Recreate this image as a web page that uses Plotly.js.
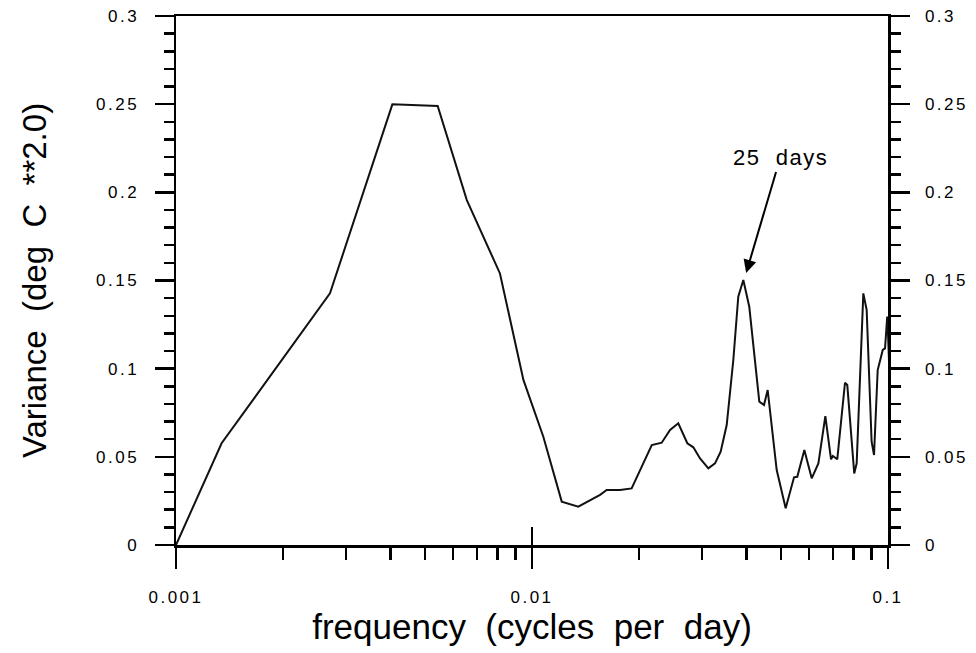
<!DOCTYPE html>
<html>
<head>
<meta charset="utf-8">
<script src="https://cdn.plot.ly/plotly-3.0.1.min.js"></script>
<style>
  html, body { margin: 0; padding: 0; background: #fff; }
  #chart { width: 976px; height: 653px; }
  .xtick text, .ytick text, .y2tick text { letter-spacing: 2.5px; }
  .annotation-text { letter-spacing: 1.5px; }
</style>
</head>
<body>
<div id="chart"></div>
<script>
// Frequency (cycles per day) and variance (deg C ** 2.0)
const frequency = [0.001, 0.001343, 0.002707, 0.004053, 0.005433, 0.00656, 0.008128, 0.00946,
  0.01076, 0.01212, 0.01349, 0.01553, 0.01621, 0.01767, 0.01905, 0.02170, 0.02314, 0.02442,
  0.02576, 0.02731, 0.02839, 0.02965, 0.03129, 0.03266, 0.03388, 0.03523, 0.03677, 0.03797,
  0.03923, 0.04077, 0.04350, 0.04484, 0.04592, 0.04868, 0.05159, 0.05445, 0.05561, 0.05821,
  0.06105, 0.06374, 0.06668, 0.06918, 0.0700, 0.07203, 0.07571, 0.07685, 0.08038, 0.08166,
  0.08524, 0.08711, 0.08995, 0.09136, 0.09355, 0.09667, 0.0981, 0.0995, 0.1, 0.1025, 0.105, 0.107];
const variance = [0, 0.0577, 0.1427, 0.2499, 0.249, 0.1956, 0.154, 0.0936,
  0.0614, 0.0246, 0.0217, 0.0284, 0.0312, 0.0312, 0.0321, 0.0567, 0.058, 0.0652,
  0.069, 0.0577, 0.0554, 0.0491, 0.0435, 0.0463, 0.0529, 0.068, 0.1049, 0.1408,
  0.1503, 0.1351, 0.0813, 0.0794, 0.0879, 0.0425, 0.0208, 0.0384, 0.0387, 0.0539,
  0.0378, 0.0463, 0.0731, 0.0486, 0.0505, 0.0486, 0.092, 0.0907, 0.0406, 0.0463,
  0.1427, 0.1333, 0.0586, 0.051, 0.0992, 0.1106, 0.1115, 0.1295, 0.12, 0.06, 0.022, 0.021];

const xTickVals = [0.001, 0.01, 0.1];
const xTickText = ['0.001', '0.01', '0.1'];
const yTickVals = [0, 0.05, 0.1, 0.15, 0.2, 0.25, 0.3];
const yTickText = ['0', '0.05', '0.1', '0.15', '0.2', '0.25', '0.3'];
const peakLabel = '25  days';
const xTitle = 'frequency  (cycles  per  day)';
const yTitle = 'Variance  (deg  C  **2.0)';

const minorX = [];
for (let d = 0; d < xTickVals.length - 1; d++) {
  for (let k = 2; k <= 9; k++) minorX.push(xTickVals[d] * k);
}

// peak marked by the annotation
let pk = 0;
for (let i = 0; i < variance.length; i++) {
  if (frequency[i] > 0.03 && frequency[i] < 0.05 && variance[i] > variance[pk]) pk = i;
}
if (!(frequency[pk] > 0.03)) pk = 28;

const FONT = 'Liberation Sans, Arial, Helvetica, sans-serif';
const tickFont = { family: FONT, size: 17, color: '#000' };

const yCommon = {
  range: [0, 0.3],
  tickmode: 'array', tickvals: yTickVals, ticktext: yTickText,
  ticks: 'outside', ticklen: 19, tickwidth: 2.5, tickcolor: '#000',
  minor: { dtick: 0.01, tick0: 0, ticks: 'outside', ticklen: 10, tickwidth: 2.5, tickcolor: '#000', showgrid: false },
  showline: true, linewidth: 2.5, linecolor: '#000',
  showgrid: false, zeroline: false, fixedrange: true,
  tickfont: tickFont, ticklabelstandoff: 12
};

const traces = [
  {
    x: frequency, y: variance, type: 'scatter', mode: 'lines',
    line: { color: '#111', width: 2 }, hoverinfo: 'skip', xaxis: 'x', yaxis: 'y'
  },
  {
    x: frequency, y: variance, type: 'scatter', mode: 'lines',
    line: { color: 'rgba(0,0,0,0)', width: 0 }, hoverinfo: 'skip', xaxis: 'x2', yaxis: 'y2',
    showlegend: false
  }
];

const layout = {
  width: 976, height: 653,
  margin: { l: 176, r: 88, t: 16, b: 108 },
  paper_bgcolor: '#fff', plot_bgcolor: '#fff',
  showlegend: false,
  font: { family: FONT, color: '#000' },
  xaxis: {
    type: 'log', range: [-3, -1],
    tickmode: 'array', tickvals: xTickVals, ticktext: xTickText,
    ticks: 'outside', ticklen: 21, tickwidth: 2.5, tickcolor: '#000',
    minor: { tickmode: 'array', tickvals: minorX, ticks: 'outside', ticklen: 12, tickwidth: 2.5, tickcolor: '#000', showgrid: false },
    showline: true, linewidth: 2.5, linecolor: '#000', mirror: true,
    showgrid: false, zeroline: false, fixedrange: true,
    tickfont: tickFont, ticklabelstandoff: 14,
    title: { text: xTitle, font: { family: FONT, size: 35, color: '#000' }, standoff: 9 }
  },
  yaxis: Object.assign({}, yCommon, {
    title: { text: yTitle, font: { family: FONT, size: 33, color: '#000' }, standoff: 40 }
  }),
  xaxis2: {
    type: 'log', range: [-3, -1], overlaying: 'x', anchor: 'y2', side: 'bottom',
    tickmode: 'array', tickvals: xTickVals, ticks: 'inside', ticklen: 18, tickwidth: 2.5, tickcolor: '#000',
    showticklabels: false, showline: false, showgrid: false, zeroline: false, fixedrange: true
  },
  yaxis2: Object.assign({}, yCommon, { overlaying: 'y', side: 'right', anchor: 'x2' }),
  annotations: [{
    xref: 'x', yref: 'y',
    x: Math.log10(frequency[pk]) + 0.008, y: variance[pk] + 0.004,
    text: peakLabel, showarrow: true,
    ax: 34, ay: -115,
    arrowhead: 2, arrowsize: 1.3, arrowwidth: 2, arrowcolor: '#000',
    font: { family: FONT, size: 22, color: '#000' }
  }]
};

Plotly.newPlot('chart', traces, layout, { staticPlot: true, displayModeBar: false });
</script>
</body>
</html>
